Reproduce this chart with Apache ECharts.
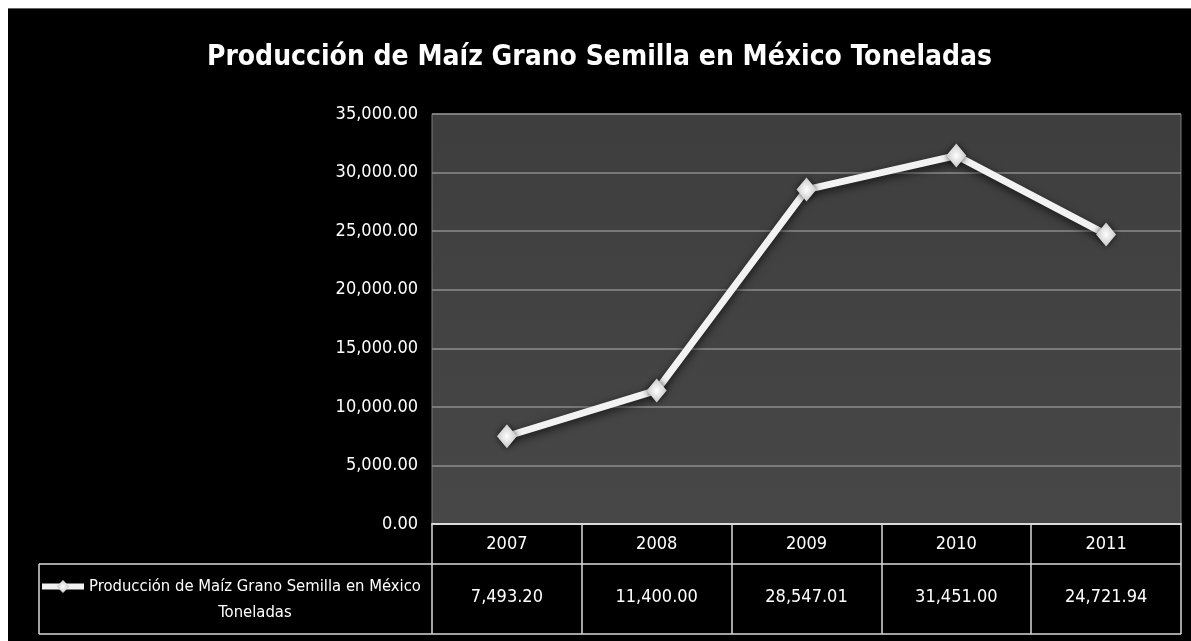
<!DOCTYPE html>
<html>
<head>
<meta charset="utf-8">
<script src="https://cdn.jsdelivr.net/npm/echarts@6/dist/echarts.min.js"></script>
<style>
  html, body { margin: 0; padding: 0; background: #fff; }
  #main { position: absolute; left: 8px; top: 8px; width: 1183px; height: 633px; background: #000; border-top: 1px solid #666; }
</style>
</head>
<body>
<div id="main"></div>
<script>
var years = ['2007', '2008', '2009', '2010', '2011'];
var produccion = [7493.20, 11400.00, 28547.01, 31451.00, 24721.94];
var serieName = 'Producción de Maíz Grano Semilla en México Toneladas';
var titulo = 'Producción de Maíz Grano Semilla en México Toneladas';

var FONT = '"DejaVu Sans Condensed", "Liberation Sans Narrow", sans-serif';

// layout (relative to the black box which starts at 8,8)
var G = { left: 424, top: 105, right: 10, bottom: 118 };
var W = 1183, H = 633;
var plotBottom = H - G.bottom;
var rowH = 40;        // header row (years)
var valH = 70;        // value row
var tableLeft = 31;

function fmt(v) {
    return v.toLocaleString('en-US', { minimumFractionDigits: 2, maximumFractionDigits: 2 });
}

var chart = echarts.init(document.getElementById('main'));
var lineColor = '#d9d9d9';

chart.setOption({
    backgroundColor: '#000',
    animation: false,
    title: {
        text: titulo,
        left: 'center',
        top: 30,
        textStyle: { color: '#fff', fontFamily: FONT, fontWeight: 'bold', fontSize: 28 }
    },
    legend: {
        left: tableLeft - 5,
        top: plotBottom + rowH + 9,
        itemWidth: 42,
        itemHeight: 16,
        itemGap: 0,
        data: [serieName],
        lineStyle: { width: 6 },
        formatter: function (name) {
            var i = name.lastIndexOf(' ');
            return '{a|' + name.slice(0, i) + '}\n{b|' + name.slice(i + 1) + '}';
        },
        textStyle: {
            color: '#fff',
            fontFamily: FONT,
            fontSize: 16.5,
            padding: [26, 0, 0, 0],
            rich: {
                a: { color: '#fff', fontFamily: FONT, fontSize: 16.5, lineHeight: 26 },
                b: { color: '#fff', fontFamily: FONT, fontSize: 16.5, lineHeight: 26, align: 'center' }
            }
        }
    },
    grid: {
        left: G.left, top: G.top, right: G.right, bottom: G.bottom,
        show: true,
        backgroundColor: new echarts.graphic.LinearGradient(0, 0, 0, 1, [
            { offset: 0, color: '#3e3e3e' },
            { offset: 1, color: '#474747' }
        ]),
        borderColor: '#7a7a7a',
        borderWidth: 1
    },
    xAxis: [{
        type: 'category',
        data: years,
        boundaryGap: true,
        axisLine: { lineStyle: { color: lineColor, width: 2 } },
        axisTick: { show: true, length: rowH + valH, lineStyle: { color: lineColor, width: 1.5 } },
        axisLabel: { color: '#fff', fontFamily: FONT, fontSize: 18, margin: 11 },
        splitLine: { show: false }
    }, {
        type: 'category',
        data: produccion.map(fmt),
        position: 'bottom',
        offset: rowH,
        axisLine: { show: false },
        axisTick: { show: false },
        axisLabel: { color: '#fff', fontFamily: FONT, fontSize: 18, margin: 24 }
    }],
    yAxis: {
        type: 'value',
        min: 0,
        max: 35000,
        interval: 5000,
        axisLine: { show: false },
        axisTick: { show: false },
        axisLabel: { color: '#fff', fontFamily: FONT, fontSize: 18, margin: 14, formatter: fmt },
        splitLine: { lineStyle: { color: '#8c8c8c', width: 1.5 } }
    },
    series: [{
        name: serieName,
        type: 'line',
        data: produccion,
        symbol: 'diamond',
        symbolSize: [20, 24],
        lineStyle: { color: '#f2f2f2', width: 7, shadowColor: 'rgba(0,0,0,0.7)', shadowBlur: 8, shadowOffsetY: 3 },
        itemStyle: {
            color: new echarts.graphic.RadialGradient(0.5, 0.5, 0.6, [
                { offset: 0, color: '#ffffff' },
                { offset: 1, color: '#bdbdbd' }
            ]),
            borderWidth: 0,
            shadowColor: 'rgba(0,0,0,0.7)',
            shadowBlur: 6
        }
    }],
    graphic: [
        { type: 'line', shape: { x1: tableLeft, y1: plotBottom + rowH, x2: W - G.right, y2: plotBottom + rowH }, style: { stroke: lineColor, lineWidth: 1.5 } },
        { type: 'line', shape: { x1: tableLeft, y1: plotBottom + rowH + valH, x2: W - G.right, y2: plotBottom + rowH + valH }, style: { stroke: lineColor, lineWidth: 1.5 } },
        { type: 'line', shape: { x1: tableLeft, y1: plotBottom + rowH, x2: tableLeft, y2: plotBottom + rowH + valH }, style: { stroke: lineColor, lineWidth: 1.5 } }
    ]
});
</script>
</body>
</html>
